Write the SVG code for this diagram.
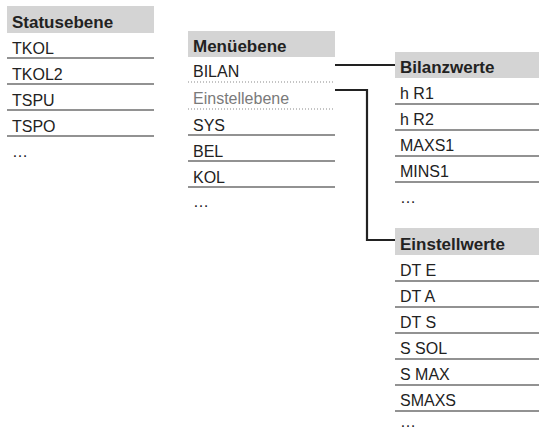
<svg xmlns="http://www.w3.org/2000/svg" width="539" height="431" viewBox="0 0 539 431">
<style>
.hd{fill:#d4d4d4}
.ht{font-family:"Liberation Sans",Arial,sans-serif;font-size:17px;font-weight:bold;fill:#222}
.t{font-family:"Liberation Sans",Arial,sans-serif;font-size:16px;fill:#222}
.g{fill:#7a7a7a}
.ln{stroke:#6e6e6e;stroke-width:1.3;fill:none}
.dt{stroke:#8a8a8a;stroke-width:1.2;stroke-dasharray:1 2;fill:none}
.cn{stroke:#222;stroke-width:2.2;fill:none}
</style>
<rect width="539" height="431" fill="#fff"/>
<g id="statusebene">
<rect class="hd" x="7" y="6" width="147" height="27"/>
<text class="ht" x="12" y="28">Statusebene</text>
<text class="t" x="12" y="54">TKOL</text><path class="ln" d="M7 58H154"/>
<text class="t" x="12" y="80">TKOL2</text><path class="ln" d="M7 84H154"/>
<text class="t" x="12" y="106">TSPU</text><path class="ln" d="M7 110H154"/>
<text class="t" x="12" y="132">TSPO</text><path class="ln" d="M7 136H154"/>
<text class="t" x="12" y="157">…</text>
</g>
<g id="menuebene">
<rect class="hd" x="188" y="31" width="147" height="26"/>
<text class="ht" x="193" y="52">Menüebene</text>
<text class="t" x="193" y="77">BILAN</text><path class="dt" d="M188 82H335"/>
<text class="t g" x="193" y="104">Einstellebene</text><path class="dt" d="M188 109H335"/>
<text class="t" x="193" y="131">SYS</text><path class="ln" d="M188 135H335"/>
<text class="t" x="193" y="157">BEL</text><path class="ln" d="M188 161H335"/>
<text class="t" x="193" y="183">KOL</text><path class="ln" d="M188 187H335"/>
<text class="t" x="193" y="207">…</text>
</g>
<g id="bilanzwerte">
<rect class="hd" x="395" y="52" width="144" height="26"/>
<text class="ht" x="400" y="73">Bilanzwerte</text>
<text class="t" x="400" y="99">h R1</text><path class="ln" d="M395 104H539"/>
<text class="t" x="400" y="125">h R2</text><path class="ln" d="M395 130H539"/>
<text class="t" x="400" y="151">MAXS1</text><path class="ln" d="M395 156H539"/>
<text class="t" x="400" y="177">MINS1</text><path class="ln" d="M395 182H539"/>
<text class="t" x="400" y="203">…</text>
</g>
<g id="einstellwerte">
<rect class="hd" x="395" y="228" width="144" height="27"/>
<text class="ht" x="400" y="250">Einstellwerte</text>
<text class="t" x="400" y="276">DT E</text><path class="ln" d="M395 281H539"/>
<text class="t" x="400" y="302">DT A</text><path class="ln" d="M395 307H539"/>
<text class="t" x="400" y="328">DT S</text><path class="ln" d="M395 333H539"/>
<text class="t" x="400" y="354">S SOL</text><path class="ln" d="M395 359H539"/>
<text class="t" x="400" y="380">S MAX</text><path class="ln" d="M395 385H539"/>
<text class="t" x="400" y="406">SMAXS</text><path class="ln" d="M395 411H539"/>
<text class="t" x="400" y="427">…</text>
</g>
<g id="connectors">
<path class="cn" d="M335 65H395"/>
<path class="cn" d="M335 90H367V240H395"/>
</g>
</svg>
